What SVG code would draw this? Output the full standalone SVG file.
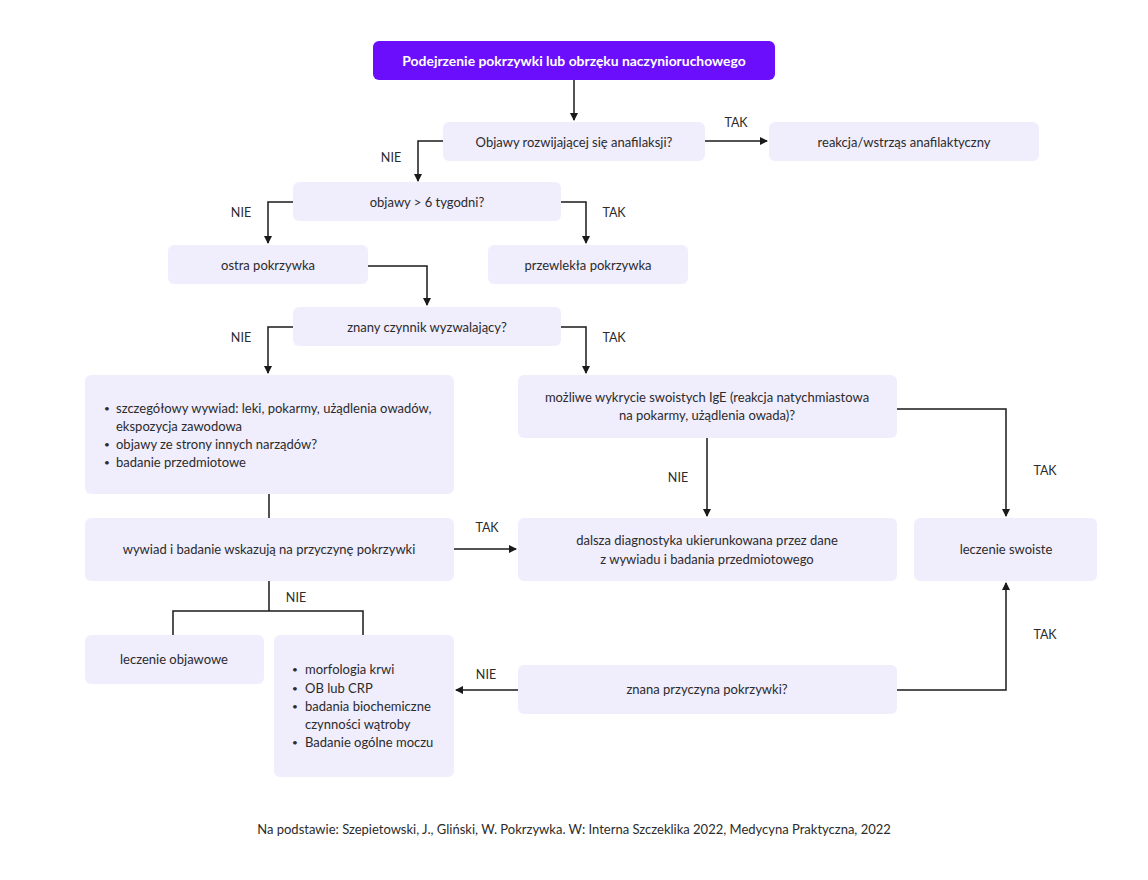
<svg xmlns="http://www.w3.org/2000/svg" width="1148" height="880" viewBox="0 0 1148 880">
<defs>
<marker id="ah" markerWidth="8" markerHeight="8" refX="7" refY="4" orient="auto" markerUnits="userSpaceOnUse">
<path d="M0,0 L8,4 L0,8 Z" fill="#1a1a1a"/>
</marker>
<style>
.box{fill:#F0EDFD;}
.top{fill:#6A0EFB;}
text{font-family:Lato,"Open Sans","Liberation Sans",sans-serif;font-size:13px;fill:#2b2b2b;}
.c{text-anchor:middle;}
.w{fill:#ffffff;font-weight:bold;font-size:13.9px;}
.lbl{font-size:12.5px;}
.b{font-size:10px;}
.ln{fill:none;stroke:#1a1a1a;stroke-width:1.5;}
.ar{marker-end:url(#ah);}
</style>
</defs>
<rect width="1148" height="880" fill="#ffffff"/>

<g id="connectors">
<path class="ln ar" d="M574,80 V120"/>
<path class="ln ar" d="M705,141 H767"/>
<path class="ln ar" d="M443,141 H418 V181"/>
<path class="ln ar" d="M293,202 H268 V243"/>
<path class="ln ar" d="M561,202 H586 V243"/>
<path class="ln ar" d="M368,266 H427 V305"/>
<path class="ln ar" d="M293,327 H268 V373"/>
<path class="ln ar" d="M561,327 H586 V373"/>
<path class="ln" d="M269,494 V518"/>
<path class="ln ar" d="M454,549 H516"/>
<path class="ln ar" d="M707,438 V516"/>
<path class="ln ar" d="M897,409 H1006 V516"/>
<path class="ln" d="M269,581 V611 M173,635 V611 H363 V635"/>
<path class="ln ar" d="M518,690 H456"/>
<path class="ln ar" d="M897,690 H1006 V583"/>
<text class="lbl" x="736" y="127" text-anchor="middle">TAK</text>
<text class="lbl" x="391" y="162" text-anchor="middle">NIE</text>
<text class="lbl" x="241" y="217" text-anchor="middle">NIE</text>
<text class="lbl" x="614" y="217" text-anchor="middle">TAK</text>
<text class="lbl" x="241" y="342" text-anchor="middle">NIE</text>
<text class="lbl" x="614" y="342" text-anchor="middle">TAK</text>
<text class="lbl" x="487" y="532" text-anchor="middle">TAK</text>
<text class="lbl" x="678" y="482" text-anchor="middle">NIE</text>
<text class="lbl" x="1045" y="475" text-anchor="middle">TAK</text>
<text class="lbl" x="296" y="602" text-anchor="middle">NIE</text>
<text class="lbl" x="486" y="679" text-anchor="middle">NIE</text>
<text class="lbl" x="1045" y="639" text-anchor="middle">TAK</text>
</g>

<g id="n-start">
<rect class="top" x="373" y="41" width="402" height="39" rx="6"/>
<text class="c w" x="574" y="65.5">Podejrzenie pokrzywki lub obrzęku naczynioruchowego</text>
</g>
<g id="n-anafilaksja">
<rect class="box" x="443" y="122" width="262" height="39" rx="6"/>
<text class="c" x="574" y="146.5">Objawy rozwijającej się anafilaksji?</text>
</g>
<g id="n-wstrzas">
<rect class="box" x="769" y="122" width="270" height="39" rx="6"/>
<text class="c" x="904" y="146.5">reakcja/wstrząs anafilaktyczny</text>
</g>
<g id="n-6tyg">
<rect class="box" x="293" y="182" width="268" height="39" rx="6"/>
<text class="c" x="427" y="206.5">objawy &gt; 6 tygodni?</text>
</g>
<g id="n-ostra">
<rect class="box" x="168" y="245" width="200" height="39" rx="6"/>
<text class="c" x="268" y="269.5">ostra pokrzywka</text>
</g>
<g id="n-przewlekla">
<rect class="box" x="488" y="245" width="200" height="39" rx="6"/>
<text class="c" x="588" y="269.5">przewlekła pokrzywka</text>
</g>
<g id="n-czynnik">
<rect class="box" x="293" y="307" width="268" height="39" rx="6"/>
<text class="c" x="427" y="331.5">znany czynnik wyzwalający?</text>
</g>
<g id="n-wywiad-lista">
<rect class="box" x="85" y="375" width="369" height="119" rx="6"/>
<text class="b" x="104" y="412">•</text><text x="116" y="413">szczegółowy wywiad: leki, pokarmy, użądlenia owadów,</text>
<text x="116" y="431">ekspozycja zawodowa</text>
<text class="b" x="104" y="448">•</text><text x="116" y="449">objawy ze strony innych narządów?</text>
<text class="b" x="104" y="466">•</text><text x="116" y="467">badanie przedmiotowe</text>
</g>
<g id="n-ige">
<rect class="box" x="518" y="375" width="379" height="63" rx="6"/>
<text class="c" x="707" y="402">możliwe wykrycie swoistych IgE (reakcja natychmiastowa</text>
<text class="c" x="707" y="420">na pokarmy, użądlenia owada)?</text>
</g>
<g id="n-wywiad-wskazuja">
<rect class="box" x="85" y="518" width="369" height="63" rx="6"/>
<text class="c" x="269" y="554">wywiad i badanie wskazują na przyczynę pokrzywki</text>
</g>
<g id="n-dalsza">
<rect class="box" x="518" y="518" width="379" height="63" rx="6"/>
<text class="c" x="707" y="545">dalsza diagnostyka ukierunkowana przez dane</text>
<text class="c" x="707" y="564">z wywiadu i badania przedmiotowego</text>
</g>
<g id="n-swoiste">
<rect class="box" x="914" y="518" width="183" height="63" rx="6"/>
<text class="c" x="1006" y="554">leczenie swoiste</text>
</g>
<g id="n-objawowe">
<rect class="box" x="85" y="635" width="179" height="49" rx="6"/>
<text class="c" x="174" y="664">leczenie objawowe</text>
</g>
<g id="n-badania">
<rect class="box" x="274" y="635" width="180" height="142" rx="6"/>
<text class="b" x="292" y="673">•</text><text x="305" y="674">morfologia krwi</text>
<text class="b" x="292" y="692">•</text><text x="305" y="693">OB lub CRP</text>
<text class="b" x="292" y="710">•</text><text x="305" y="711">badania biochemiczne</text>
<text x="305" y="729">czynności wątroby</text>
<text class="b" x="292" y="746">•</text><text x="305" y="747">Badanie ogólne moczu</text>
</g>
<g id="n-znana">
<rect class="box" x="518" y="665" width="379" height="49" rx="6"/>
<text class="c" x="707" y="694">znana przyczyna pokrzywki?</text>
</g>
<g id="footer">
<text class="c" x="574" y="834">Na podstawie: Szepietowski, J., Gliński, W. Pokrzywka. W: Interna Szczeklika 2022, Medycyna Praktyczna, 2022</text>
</g>
</svg>
